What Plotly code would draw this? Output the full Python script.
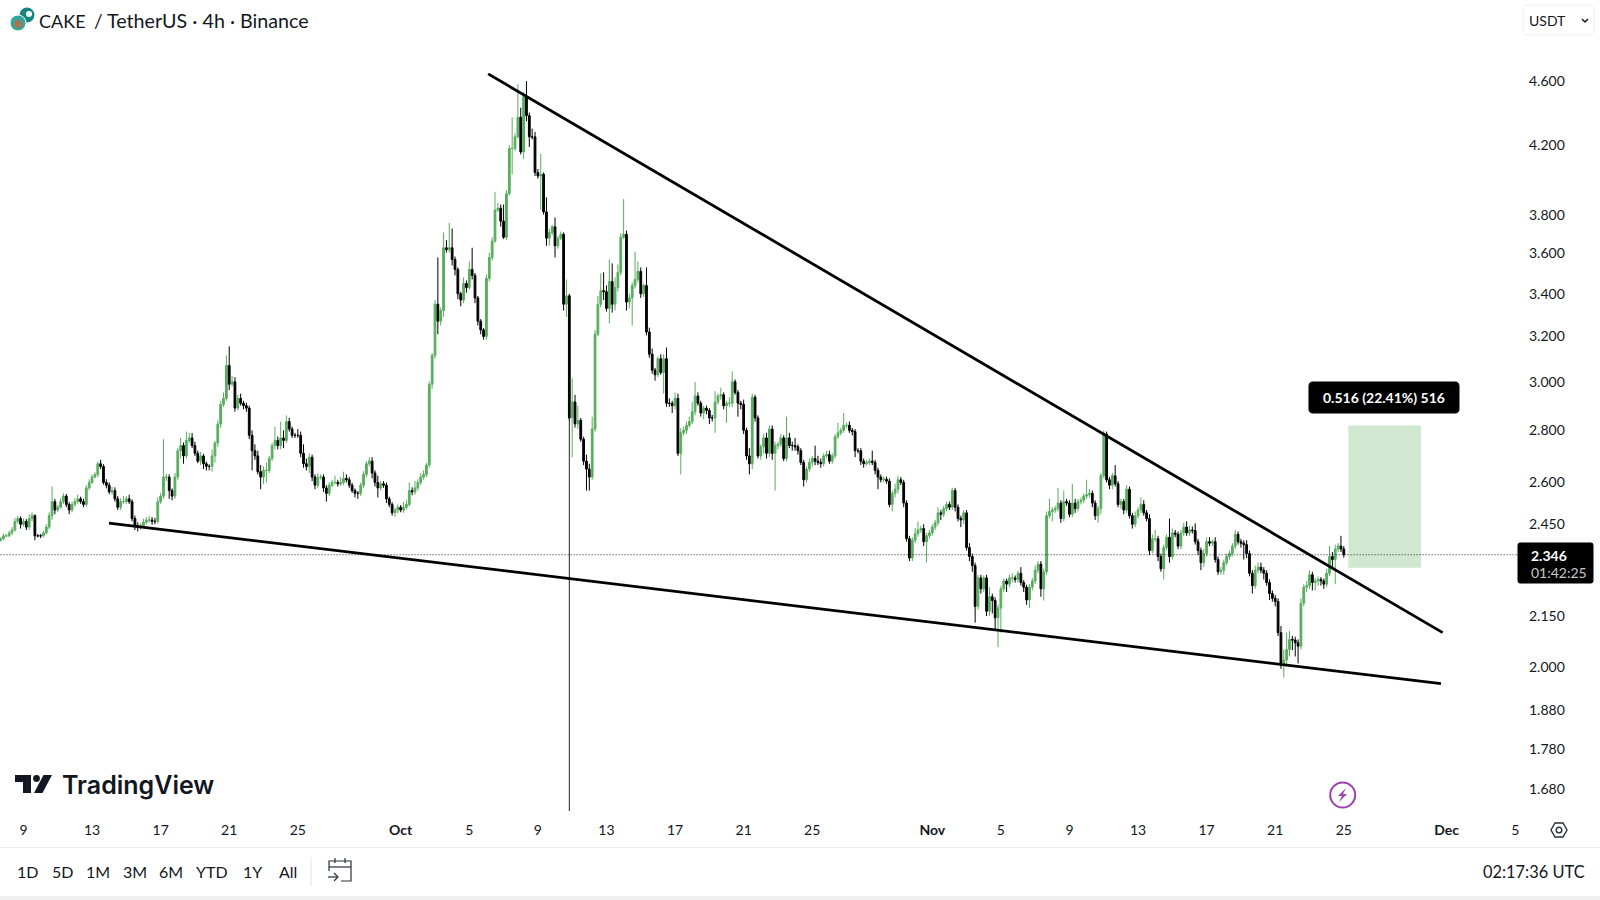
import math
import pandas as pd
import plotly.graph_objects as go

closes = [
 2.40,2.41,2.41,2.42,2.43,2.46,2.47,2.45,2.46,2.44,
 2.47,2.48,2.41,2.41,2.41,2.42,2.44,2.48,2.53,2.50,
 2.51,2.53,2.55,2.52,2.50,2.52,2.53,2.54,2.53,2.52,
 2.58,2.60,2.62,2.63,2.67,2.66,2.60,2.59,2.565,2.57,
 2.54,2.51,2.53,2.53,2.54,2.53,2.47,2.445,2.44,2.445,
 2.457,2.465,2.465,2.46,2.46,2.53,2.55,2.62,2.62,2.57,
 2.55,2.62,2.72,2.74,2.70,2.76,2.77,2.74,2.71,2.68,
 2.70,2.67,2.66,2.66,2.70,2.75,2.825,2.905,2.93,3.07,
 2.99,3.00,2.89,2.93,2.91,2.90,2.89,2.78,2.72,2.70,
 2.64,2.62,2.645,2.645,2.69,2.74,2.76,2.74,2.77,2.76,
 2.835,2.805,2.78,2.78,2.78,2.71,2.67,2.66,2.695,2.62,
 2.59,2.62,2.62,2.58,2.56,2.59,2.60,2.60,2.595,2.60,
 2.615,2.61,2.59,2.57,2.56,2.56,2.59,2.63,2.67,2.68,
 2.635,2.60,2.58,2.595,2.59,2.54,2.52,2.49,2.50,2.51,
 2.50,2.51,2.52,2.57,2.565,2.58,2.60,2.62,2.63,2.665,
 2.99,3.115,3.35,
 3.27,3.32,3.63,3.62,3.63,3.57,3.52,3.40,3.37,3.45,
 3.43,3.52,3.49,3.38,3.27,3.23,3.20,3.475,3.58,3.665,
 3.83,3.84,3.77,3.685,3.92,4.18,4.18,4.25,4.37,4.16,
 4.50,4.38,4.25,4.25,4.04,4.02,4.03,3.82,3.68,3.71,
 3.74,3.64,3.68,3.70,3.35,3.39,2.85,
 2.915,2.826,2.84,2.765,2.68,2.65,2.62,2.805,3.21,3.35,
 3.415,3.41,3.33,3.46,3.35,3.43,3.505,3.685,3.70,3.36,
 3.38,3.44,3.47,3.51,3.40,3.44,3.22,3.12,3.05,3.03,
 3.10,3.04,3.10,2.91,2.91,2.90,2.93,2.71,2.79,2.80,
 2.82,2.835,2.875,2.94,2.91,2.87,2.89,2.88,2.85,2.85,
 2.915,2.94,2.945,2.90,2.91,2.91,3.00,2.955,2.91,2.905,
 2.80,2.70,2.67,2.935,2.85,2.70,2.735,2.77,2.71,2.805,
 2.71,2.74,2.745,2.77,2.69,2.77,2.74,2.74,2.735,2.72,
 2.675,2.61,2.65,2.675,2.69,2.68,2.675,2.67,2.70,2.705,
 2.68,2.70,2.775,2.79,
 2.80,2.82,2.82,2.80,2.795,2.72,2.72,2.68,2.67,2.675,
 2.68,2.675,2.645,2.62,2.61,2.612,2.605,2.52,2.56,2.575,
 2.61,2.60,2.525,2.40,2.335,2.395,
 2.417,2.43,2.435,2.39,2.41,2.42,2.44,2.455,2.49,2.485,
 2.505,2.52,2.51,2.57,2.51,2.47,2.465,2.49,2.37,2.34,
 2.31,2.18,2.27,2.235,2.27,2.165,2.21,2.198,2.145,2.175,
 2.235,2.26,2.25,2.27,2.27,2.265,2.285,2.255,2.24,2.20,
 2.24,2.26,2.295,2.315,2.235,2.29,2.48,2.495,2.50,2.505,
 2.525,2.47,2.53,2.525,2.485,2.525,2.505,2.53,2.535,2.55,
 2.555,2.56,2.525,2.48,2.505,2.625,2.785,2.61,2.59,2.625,2.595,
 2.52,2.53,2.50,2.575,2.48,2.45,2.48,2.50,2.52,2.49,
 2.47,2.36,2.40,2.40,2.34,2.30,2.37,2.405,2.34,2.42,
 2.415,2.375,2.42,2.44,2.42,2.43,2.428,2.39,2.36,2.32,
 2.35,2.39,2.385,2.39,2.33,2.29,2.295,2.32,2.34,2.35,
 2.375,2.415,2.39,2.385,2.38,2.35,2.285,2.245,2.295,2.305,
 2.295,2.285,2.255,2.22,2.205,2.195,2.10,2.01,2.02,2.05,
 2.08,2.078,2.07,2.06,2.19,2.24,2.245,2.28,2.255,2.26,
 2.265,2.26,2.25,2.285,2.34,2.33,2.365,2.375,2.365,2.346,
]

# wick lengths above and below each candle's body, in thousandths of a USDT
upper_wicks = [
 5,8,6,8,10,12,10,8,10,8,
 15,12,5,6,6,8,10,12,55,10,
 8,12,10,8,8,10,12,15,8,10,
 10,12,10,8,8,15,8,12,10,14,
 12,10,12,20,10,15,8,10,12,8,
 12,10,15,10,12,15,12,145,12,10,
 8,15,10,30,12,35,20,20,15,10,
 15,8,8,8,25,8,15,15,25,45,
 85,25,20,15,20,10,12,10,20,25,
 20,25,15,30,10,10,55,15,65,30,
 25,15,10,10,25,15,35,20,15,10,
 10,15,10,10,10,12,10,25,10,20,
 25,15,10,8,8,8,10,12,10,15,
 15,10,25,10,10,10,8,8,8,10,
 8,20,15,30,12,25,12,15,15,8,
 12,10,20,
 230,15,80,40,130,100,15,10,10,30,
 15,40,110,12,10,10,8,20,25,20,
 100,30,20,90,20,20,190,20,210,60,
 30,100,20,50,30,20,120,10,80,20,
 10,50,10,15,10,80,10,
 100,30,60,10,10,25,20,50,20,40,
 85,90,30,110,90,50,40,20,190,20,
 20,15,140,50,20,10,90,20,25,10,
 10,20,20,50,20,10,25,20,20,15,
 15,20,40,60,15,10,10,10,10,12,
 45,10,30,10,10,25,45,10,10,10,
 20,10,30,15,10,10,10,15,20,15,
 15,15,10,15,10,85,20,15,30,10,
 10,10,10,15,10,50,20,15,10,15,
 15,10,10,40,
 10,50,10,15,10,10,10,10,10,10,
 10,40,10,10,10,10,10,10,10,20,
 15,10,10,10,10,10,
 20,30,10,15,10,10,10,10,20,10,
 10,10,10,10,10,10,10,10,10,15,
 10,10,10,10,8,10,30,10,10,10,
 10,8,8,10,15,8,8,20,8,8,
 10,10,15,10,10,10,15,45,10,10,
 55,10,40,10,10,70,15,10,10,10,
 55,15,10,10,10,10,15,10,10,10,40,
 10,10,10,15,10,10,15,10,25,15,
 10,15,15,30,10,10,10,10,65,15,
 10,10,10,15,20,15,12,25,10,10,
 15,15,15,8,15,10,10,10,10,10,
 10,15,10,10,10,15,10,10,15,15,
 15,10,10,10,10,10,10,20,30,50,
 25,10,10,10,15,10,15,15,10,10,
 10,8,8,15,35,15,15,10,35,10,
]

lower_wicks = [
 5,5,5,5,8,5,8,15,8,10,
 10,10,15,5,8,5,5,8,15,15,
 8,5,8,10,15,8,8,8,8,10,
 8,8,5,5,10,10,8,12,8,10,
 10,10,10,8,8,8,10,15,15,10,
 8,8,10,12,10,8,8,10,15,30,
 15,10,10,30,30,10,10,10,10,8,
 15,20,15,15,20,25,15,15,10,10,
 25,10,15,10,10,15,15,15,75,15,
 10,45,25,45,10,10,15,15,15,30,
 10,10,10,10,10,15,15,15,25,15,
 15,10,10,15,30,10,8,8,10,8,
 10,10,10,8,15,20,10,10,10,10,
 20,15,35,10,10,15,10,10,15,12,
 8,10,8,8,12,10,10,10,10,10,
 10,20,15,
 60,20,30,15,15,30,30,25,30,15,
 25,10,20,25,20,20,15,15,15,15,
 10,10,30,10,15,10,150,15,10,15,
 40,35,60,15,20,15,190,15,40,40,
 15,60,15,10,30,60,10,
 155,15,20,10,15,80,50,10,10,10,
 15,40,15,70,40,30,20,15,10,40,
 30,130,15,15,20,15,15,15,15,25,
 10,10,90,15,15,30,15,10,80,10,
 15,10,10,15,10,15,25,15,25,15,
 60,10,15,15,70,15,15,10,55,20,
 15,15,40,20,15,10,15,25,20,15,
 25,140,15,10,10,10,10,20,15,15,
 10,25,10,10,15,15,10,15,10,8,
 10,10,10,10,
 10,10,10,10,15,25,10,15,15,8,
 10,10,15,45,10,10,10,10,25,15,
 15,10,15,10,10,10,
 10,10,10,15,70,10,10,10,10,20,
 10,10,10,10,15,10,25,15,10,15,
 20,50,10,15,10,15,15,40,40,88,
 75,10,25,10,15,10,10,10,15,15,
 25,10,10,10,25,37,10,10,35,10,
 10,15,10,10,10,10,15,10,10,10,
 10,10,15,15,25,20,10,10,15,15,10,
 10,15,15,10,10,15,10,10,10,10,
 10,15,10,10,15,10,35,10,20,10,
 10,10,10,10,10,10,10,10,15,25,
 15,10,10,10,10,10,10,15,10,10,
 10,10,10,15,50,15,10,25,10,10,
 10,20,10,20,10,15,10,15,40,20,
 20,30,40,50,10,10,15,10,25,25,
 15,15,15,10,10,30,80,10,10,10,
]

first_open = 2.395
opens = [first_open] + closes[:-1]
highs = [max(o, c) + u / 1000 for o, c, u in zip(opens, closes, upper_wicks)]
lows = [min(o, c) - d / 1000 for o, c, d in zip(opens, closes, lower_wicks)]
times = pd.date_range(end="2025-11-25 00:00", periods=len(closes), freq="4h").strftime("%Y-%m-%d %H:%M").tolist()

upper_line_t = ["2025-10-06 02:24", "2025-11-30 18:24"]
upper_line_p = [4.648, 2.100]
lower_line_t = ["2025-09-13 23:40", "2025-11-30 16:00"]
lower_line_p = [2.454, 1.953]
drop_line_t = ["2025-10-10 20:00", "2025-10-10 20:00"]
drop_line_p = [2.85, 1.628]
last_price = 2.346
box_t = ["2025-11-25 06:24", "2025-11-29 12:00", "2025-11-29 12:00", "2025-11-25 06:24", "2025-11-25 06:24"]
box_p = [2.303, 2.303, 2.819, 2.819, 2.303]

x_tick_dates = ["2025-09-09","2025-09-13","2025-09-17","2025-09-21","2025-09-25","2025-10-01","2025-10-05",
                "2025-10-09","2025-10-13","2025-10-17","2025-10-21","2025-10-25","2025-11-01","2025-11-05",
                "2025-11-09","2025-11-13","2025-11-17","2025-11-21","2025-11-25","2025-12-01","2025-12-05"]
x_tick_text = ["9","13","17","21","25","<b>Oct</b>","5","9","13","17","21","25","<b>Nov</b>","5","9","13","17","21","25","<b>Dec</b>","5"]
y_tick_vals = [4.6,4.2,3.8,3.6,3.4,3.2,3.0,2.8,2.6,2.45,2.15,2.0,1.88,1.78,1.68]
y_tick_text = ["4.600","4.200","3.800","3.600","3.400","3.200","3.000","2.800","2.600","2.450","2.150","2.000","1.880","1.780","1.680"]
range_buttons = ["1D","5D","1M","3M","6M","YTD","1Y","All"]
range_button_x = [27.5,62,98,135,171,212,253,288]

FONT = "Lato"
INK = "#131722"
UP = "#58ad5e"
DOWN = "#000000"

def px(x): return x / 1600
def py(y): return 1 - y / 900
def path(points, close=True):
    s = "M " + " L ".join(f"{px(x):.5f},{py(y):.5f}" for x, y in points)
    return s + (" Z" if close else "")

fig = go.Figure()
fig.add_trace(go.Scatter(x=box_t, y=box_p, mode="lines", fill="toself", fillcolor="#cfe8cf",
                         line=dict(width=0), hoverinfo="skip", showlegend=False))
fig.add_trace(go.Scatter(x=[times[0], "2025-12-05 02:24"], y=[last_price, last_price], mode="lines",
                         line=dict(color="#222222", width=1, dash="1px,2px"), hoverinfo="skip", showlegend=False))
fig.add_trace(go.Candlestick(x=times, open=opens, high=highs, low=lows, close=closes,
                             increasing=dict(line=dict(color=UP, width=1), fillcolor=UP),
                             decreasing=dict(line=dict(color=DOWN, width=1), fillcolor=DOWN),
                             whiskerwidth=0, hoverinfo="skip", showlegend=False))
fig.add_trace(go.Scatter(x=drop_line_t, y=drop_line_p, mode="lines", line=dict(color="#222222", width=1),
                         hoverinfo="skip", showlegend=False))
for t, p in ((upper_line_t, upper_line_p), (lower_line_t, lower_line_p)):
    fig.add_trace(go.Scatter(x=t, y=p, mode="lines", line=dict(color="#000000", width=2.8),
                             hoverinfo="skip", showlegend=False))

shapes = []
def add_rect(x0, y0, x1, y1, fill, line=None, r=0, lw=1):
    if r:
        pts = (f"M {px(x0+r):.5f},{py(y0):.5f} L {px(x1-r):.5f},{py(y0):.5f} "
               f"Q {px(x1):.5f},{py(y0):.5f} {px(x1):.5f},{py(y0+r):.5f} L {px(x1):.5f},{py(y1-r):.5f} "
               f"Q {px(x1):.5f},{py(y1):.5f} {px(x1-r):.5f},{py(y1):.5f} L {px(x0+r):.5f},{py(y1):.5f} "
               f"Q {px(x0):.5f},{py(y1):.5f} {px(x0):.5f},{py(y1-r):.5f} L {px(x0):.5f},{py(y0+r):.5f} "
               f"Q {px(x0):.5f},{py(y0):.5f} {px(x0+r):.5f},{py(y0):.5f} Z")
        shapes.append(dict(type="path", xref="paper", yref="paper", path=pts, fillcolor=fill,
                           line=dict(color=line or fill, width=lw), layer="above"))
    else:
        shapes.append(dict(type="rect", xref="paper", yref="paper", x0=px(x0), x1=px(x1), y0=py(y1), y1=py(y0),
                           fillcolor=fill, line=dict(color=line or fill, width=lw if line else 0), layer="above"))
def add_circle(cx, cy, r, fill="rgba(0,0,0,0)", line=None, lw=1):
    shapes.append(dict(type="circle", xref="paper", yref="paper", x0=px(cx-r), x1=px(cx+r), y0=py(cy+r), y1=py(cy-r),
                       fillcolor=fill, line=dict(color=line or fill, width=lw if line else 0), layer="above"))
def add_path(points, fill=None, line=None, lw=1.5, close=True):
    shapes.append(dict(type="path", xref="paper", yref="paper", path=path(points, close),
                       fillcolor=fill or "rgba(0,0,0,0)", line=dict(color=line or "rgba(0,0,0,0)", width=lw if line else 0), layer="above"))

# bottom bar and separators
add_rect(0, 847, 1600, 848, "#ececec")
add_rect(0, 896, 1600, 900, "#efefef")
add_rect(310.5, 857, 311.5, 886, "#e4e4e4")
# value tag, measure tag, currency box
add_rect(1518, 543, 1593, 583, "#000000", r=2)
add_rect(1309, 382, 1459, 413, "#000000", r=4)
add_rect(1523, 5, 1594, 35, "#ffffff", line="#eef0f4", r=5)
add_path([(1582, 19), (1585, 22), (1588, 19)], line=INK, lw=1.5, close=False)
# symbol icon
add_circle(27, 15, 7.5, fill="#17867f")
add_circle(29, 14, 3, fill="#ffffff")
add_circle(18, 23, 8, fill="#35a79f", line="#ffffff", lw=1)
add_circle(18, 24, 4, fill="#a5744f")
# TradingView mark
add_path([(15,775),(31,775),(31,793),(23,793),(23,782),(15,782)], fill="#131722")
add_circle(36.5, 778.5, 3.4, fill="#131722")
add_path([(43.5,775),(52,775),(42.5,793),(34,793)], fill="#131722")
# calendar icon
cal = "#2a2e39"
add_path([(329,871),(329,861),(351,861),(351,881),(341,881)], line=cal, lw=1.2, close=False)
add_path([(329,867),(351,867)], line=cal, lw=1.2, close=False)
add_path([(335,858),(335,863)], line=cal, lw=1.2, close=False)
add_path([(345,858),(345,863)], line=cal, lw=1.2, close=False)
add_path([(328,877),(338,877)], line=cal, lw=1.2, close=False)
add_path([(334,873),(338,877),(334,881)], line=cal, lw=1.2, close=False)
# bolt badge
add_circle(1342.7, 795, 12.5, line="#9c3fb0", lw=2)
add_path([(1346,788),(1338,796),(1342,796),(1339,802),(1347,794),(1343,794)], fill="#9c3fb0")
# settings hexagon
add_path([(1551,830),(1555,823),(1563,823),(1567,830),(1563,837),(1555,837)], line=cal, lw=1.4)
add_circle(1559, 830, 2.8, line=cal, lw=1.4)

ann = []
def text(x, y, s, size=14, color=INK, anchor="left", font=FONT, weight=None):
    f = dict(family=font, size=size, color=color)
    if weight:
        f["weight"] = weight
    ann.append(dict(xref="paper", yref="paper", x=px(x), y=py(y), text=s, showarrow=False, xanchor=anchor, yanchor="middle",
                    font=f, align=anchor))
text(37, 21, "CAKE", size=18)
text(92, 21, "/", size=19)
text(105, 21, "TetherUS · 4h · Binance", size=19.7)
text(1527, 20, "USDT", size=14)
text(1529, 555, "<b>2.346</b>", size=14, color="#ffffff")
text(1529, 572, "01:42:25", size=14, color="#c8c8c8")
text(1384, 397.5, "<b>0.516 (22.41%) 516</b>", size=14, color="#ffffff", anchor="center")
text(60, 785, "TradingView", size=25, color="#131722", font="Inter", weight=600)
for label, x in zip(range_buttons, range_button_x):
    text(x, 871, label, size=16, anchor="center")
text(1587, 871, "02:17:36 UTC", size=16.4, anchor="right")

fig.update_layout(
    width=1600, height=900, margin=dict(l=0, r=0, t=0, b=0, autoexpand=False),
    paper_bgcolor="#ffffff", plot_bgcolor="#ffffff", showlegend=False,
    font=dict(family=FONT, size=14, color=INK),
    shapes=shapes, annotations=ann, hovermode=False, boxgap=0.12,
    xaxis=dict(domain=[0, 1517/1600], type="date", range=["2025-09-07 15:10", "2025-12-05 02:24"],
               tickmode="array", tickvals=x_tick_dates, ticktext=x_tick_text, tickangle=0,
               showgrid=False, zeroline=False, showline=False, ticks="", rangeslider=dict(visible=False),
               ticklabelstandoff=9, tickfont=dict(family=FONT, size=14, color=INK)),
    yaxis=dict(domain=[1-811/900, 1], type="log", side="right",
               range=[math.log10(1.6296), math.log10(5.163)],
               tickmode="array", tickvals=y_tick_vals, ticktext=y_tick_text,
               showgrid=False, zeroline=False, showline=False, ticks="",
               ticklabelstandoff=11, tickfont=dict(family=FONT, size=14, color=INK)),
)
fig.write_html("out.html", config={"displayModeBar": False},
               post_script="document.body.style.margin='0';document.body.style.overflow='hidden';")
